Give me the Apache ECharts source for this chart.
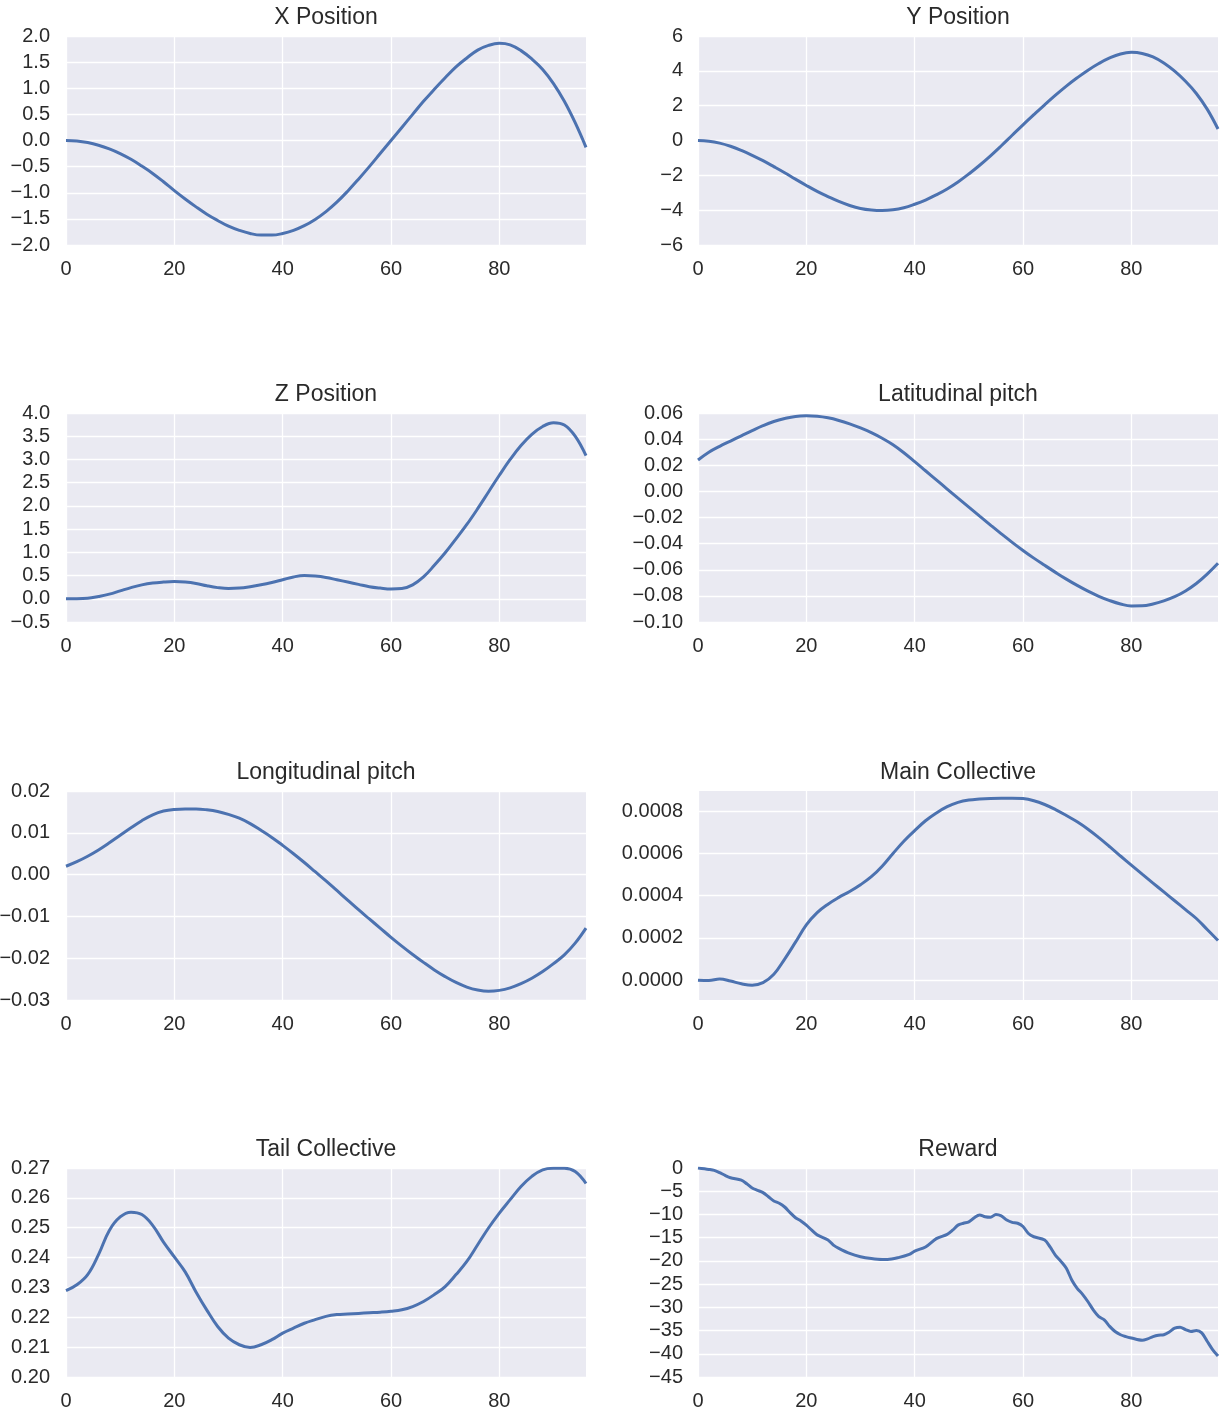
<!DOCTYPE html>
<html>
<head>
<meta charset="utf-8">
<script src="https://cdn.jsdelivr.net/npm/echarts@6/dist/echarts.min.js"></script>
<style>
  html, body { margin: 0; padding: 0; background: #ffffff; }
  #chart { width: 1220px; height: 1418px; }
</style>
</head>
<body>
<div id="chart"></div>
<script>
// ---------- data ----------
const titles = ["X Position", "Y Position", "Z Position", "Latitudinal pitch",
                "Longitudinal pitch", "Main Collective", "Tail Collective", "Reward"];

const xTicks = [0, 20, 40, 60, 80];

const t2 = [0, 2, 4, 6, 8, 10, 12, 14, 16, 18, 20, 22, 24, 26, 28, 30, 32, 34, 36, 38, 40, 42, 44, 46, 48,
            50, 52, 54, 56, 58, 60, 62, 64, 66, 68, 70, 72, 74, 76, 78, 80, 82, 84, 86, 88, 90, 92, 94, 96];

const xPosition = [0.00, -0.01, -0.04, -0.09, -0.16, -0.25, -0.36, -0.49, -0.63, -0.79, -0.96, -1.12, -1.27,
                   -1.41, -1.53, -1.64, -1.72, -1.78, -1.81, -1.81, -1.78, -1.72, -1.63, -1.51, -1.36, -1.18,
                   -0.97, -0.74, -0.50, -0.25, 0.00, 0.25, 0.50, 0.75, 0.98, 1.20, 1.41, 1.58, 1.73, 1.82,
                   1.86, 1.83, 1.72, 1.56, 1.36, 1.09, 0.75, 0.34, -0.13];

const yPosition = [0.00, -0.04, -0.15, -0.33, -0.57, -0.85, -1.16, -1.50, -1.85, -2.22, -2.58, -2.92, -3.22,
                   -3.50, -3.73, -3.90, -3.99, -4.02, -3.98, -3.86, -3.66, -3.42, -3.12, -2.78, -2.38, -1.92,
                   -1.42, -0.88, -0.30, 0.30, 0.90, 1.48, 2.05, 2.60, 3.12, 3.60, 4.04, 4.42, 4.74, 4.97,
                   5.06, 5.00, 4.80, 4.45, 3.98, 3.40, 2.70, 1.80, 0.66];

const zPosition = [0.00, 0.00, 0.01, 0.05, 0.10, 0.17, 0.24, 0.30, 0.34, 0.36, 0.37, 0.36, 0.33, 0.28, 0.24,
                   0.22, 0.23, 0.26, 0.30, 0.35, 0.41, 0.47, 0.50, 0.49, 0.46, 0.41, 0.36, 0.31, 0.26, 0.23,
                   0.21, 0.22, 0.30, 0.47, 0.72, 0.99, 1.29, 1.60, 1.94, 2.30, 2.66, 3.00, 3.30, 3.54, 3.71,
                   3.79, 3.74, 3.50, 3.08];

const latPitch = [0.0240, 0.0300, 0.0345, 0.0385, 0.0425, 0.0465, 0.0503, 0.0535, 0.0558, 0.0574, 0.0578,
                  0.0575, 0.0563, 0.0543, 0.0517, 0.0486, 0.0450, 0.0407, 0.0357, 0.0296, 0.0228, 0.0158,
                  0.0088, 0.0018, -0.0052, -0.0121, -0.0190, -0.0258, -0.0325, -0.0390, -0.0452, -0.0511,
                  -0.0566, -0.0620, -0.0672, -0.0720, -0.0764, -0.0803, -0.0836, -0.0862, -0.0877, -0.0876,
                  -0.0862, -0.0838, -0.0806, -0.0762, -0.0705, -0.0633, -0.0550];

const lonPitch = [0.0020, 0.0031, 0.0044, 0.0059, 0.0076, 0.0094, 0.0112, 0.0129, 0.0143, 0.0152, 0.0156,
                  0.0157, 0.0157, 0.0155, 0.0151, 0.0144, 0.0135, 0.0122, 0.0106, 0.0089, 0.0070, 0.0050,
                  0.0029, 0.0007, -0.0015, -0.0038, -0.0061, -0.0084, -0.0106, -0.0128, -0.0150, -0.0171,
                  -0.0191, -0.0210, -0.0228, -0.0244, -0.0258, -0.0269, -0.0276, -0.0279, -0.0277, -0.0271,
                  -0.0261, -0.0248, -0.0232, -0.0213, -0.0192, -0.0164, -0.0128];

const mainCollective = [0.000000, -0.000002, 0.000005, -0.000004, -0.000017, -0.000024, -0.000012, 0.000028,
                        0.000100, 0.000180, 0.000262, 0.000320, 0.000360, 0.000392, 0.000420, 0.000452,
                        0.000490, 0.000540, 0.000600, 0.000658, 0.000708, 0.000755, 0.000792, 0.000822,
                        0.000842, 0.000853, 0.000858, 0.000861, 0.000862, 0.000862, 0.000860, 0.000850,
                        0.000832, 0.000808, 0.000780, 0.000750, 0.000715, 0.000675, 0.000632, 0.000588,
                        0.000545, 0.000502, 0.000460, 0.000418, 0.000376, 0.000334, 0.000292, 0.000240,
                        0.000188];

const tailCollective = [0.2289, 0.2309, 0.2343, 0.2410, 0.2491, 0.2536, 0.2552, 0.2544, 0.2508, 0.2452,
                        0.2402, 0.2352, 0.2285, 0.2224, 0.2169, 0.2130, 0.2108, 0.2099, 0.2108, 0.2125,
                        0.2147, 0.2164, 0.2180, 0.2192, 0.2203, 0.2209, 0.2211, 0.2213, 0.2215, 0.2217,
                        0.2220, 0.2225, 0.2236, 0.2253, 0.2276, 0.2303, 0.2343, 0.2387, 0.2443, 0.2499,
                        0.2549, 0.2594, 0.2638, 0.2672, 0.2694, 0.2699, 0.2699, 0.2688, 0.2648];

const rewardX = [0, 2, 3, 4, 5, 6, 8, 9, 10, 11, 12, 13, 14, 15, 16, 17, 18, 19, 20, 21, 22, 24, 25, 26, 28,
                 30, 32, 34, 35, 37, 39, 40, 42, 44, 46, 47, 48, 49, 50, 51, 52, 53, 54, 55, 56, 57, 58, 59,
                 60, 61, 62, 64, 65, 66, 67, 68, 69, 70, 71, 72, 73, 74, 75, 76, 77, 78, 79, 80, 82, 83, 84,
                 85, 86, 87, 88, 89, 90, 91, 92, 93, 94, 95, 96];
const reward = [0.0, -0.3, -0.5, -1.0, -1.6, -2.1, -2.6, -3.4, -4.3, -4.8, -5.3, -6.2, -7.1, -7.6, -8.4, -9.6,
                -10.7, -11.4, -12.3, -13.4, -14.4, -15.5, -16.6, -17.3, -18.4, -19.1, -19.5, -19.7, -19.7,
                -19.3, -18.6, -17.9, -17.0, -15.2, -14.3, -13.4, -12.3, -11.9, -11.6, -10.7, -10.1, -10.5,
                -10.6, -10.0, -10.3, -11.2, -11.7, -11.9, -12.6, -14.1, -14.8, -15.5, -17.0, -18.8, -20.1,
                -21.6, -24.1, -25.9, -27.2, -28.8, -30.6, -32.0, -32.7, -34.1, -35.2, -35.9, -36.3, -36.6,
                -37.1, -36.8, -36.3, -36.0, -35.9, -35.3, -34.5, -34.3, -34.8, -35.2, -35.0, -35.5, -37.3,
                -39.1, -40.5];

// y tick labels per panel
const yTicksX   = [-2.0, -1.5, -1.0, -0.5, 0.0, 0.5, 1.0, 1.5, 2.0];
const yTicksY   = [-6, -4, -2, 0, 2, 4, 6];
const yTicksZ   = [-0.5, 0.0, 0.5, 1.0, 1.5, 2.0, 2.5, 3.0, 3.5, 4.0];
const yTicksLat = [-0.10, -0.08, -0.06, -0.04, -0.02, 0.00, 0.02, 0.04, 0.06];
const yTicksLon = [-0.03, -0.02, -0.01, 0.00, 0.01, 0.02];
const yTicksMC  = [0.0000, 0.0002, 0.0004, 0.0006, 0.0008];
const yTicksTC  = [0.20, 0.21, 0.22, 0.23, 0.24, 0.25, 0.26, 0.27];
const yTicksRw  = [-45, -40, -35, -30, -25, -20, -15, -10, -5, 0];

// ---------- chart ----------
const panels = [
  { xs: t2,      ys: xPosition,      ticks: yTicksX,   min: -2,        max: 2,        dec: 1 },
  { xs: t2,      ys: yPosition,      ticks: yTicksY,   min: -6,        max: 6,        dec: 0 },
  { xs: t2,      ys: zPosition,      ticks: yTicksZ,   min: -0.5,      max: 4,        dec: 1 },
  { xs: t2,      ys: latPitch,       ticks: yTicksLat, min: -0.10,     max: 0.06,     dec: 2 },
  { xs: t2,      ys: lonPitch,       ticks: yTicksLon, min: -0.03,     max: 0.02,     dec: 2 },
  { xs: t2,      ys: mainCollective, ticks: yTicksMC,  min: -0.000094, max: 0.000896, dec: 4 },
  { xs: t2,      ys: tailCollective, ticks: yTicksTC,  min: 0.20,      max: 0.27,     dec: 2 },
  { xs: rewardX, ys: reward,         ticks: yTicksRw,  min: -45,       max: 0,        dec: 0, smooth: 0.3 }
];

const colLeft = [66, 698];
const plotW = 520;
const rowTop = [36, 413, 791, 1168];
const plotH = 209;
const textColor = '#2a2a2a';
const fontFam = '"Liberation Sans", Arial, sans-serif';

function fmt(v, d) {
  return Number(v).toFixed(d).replace('-', '\u2212');
}

const grids = [], xAxes = [], yAxes = [], series = [], titleList = [];
panels.forEach((p, i) => {
  const col = i % 2, row = Math.floor(i / 2);
  grids.push({
    left: colLeft[col], top: rowTop[row], width: plotW, height: plotH,
    show: true, backgroundColor: '#EAEAF2', borderWidth: 0, containLabel: false,
    outerBoundsMode: 'none'
  });
  titleList.push({
    text: titles[i],
    left: colLeft[col] + plotW / 2,
    textAlign: 'center',
    top: rowTop[row] - 30,
    padding: 0,
    textStyle: { fontFamily: fontFam, fontSize: 23, fontWeight: 'normal', color: textColor }
  });
  xAxes.push({
    type: 'value', gridIndex: i, min: 0, max: 96,
    axisLine: { show: false },
    axisTick: { show: false, customValues: xTicks },
    axisLabel: { customValues: xTicks, margin: 14, fontFamily: fontFam, fontSize: 20, color: textColor,
                 formatter: v => String(v) },
    splitLine: { show: true, lineStyle: { color: '#ffffff', width: 1.3 } }
  });
  yAxes.push({
    type: 'value', gridIndex: i, min: p.min, max: p.max,
    axisLine: { show: false },
    axisTick: { show: false, customValues: p.ticks },
    axisLabel: { customValues: p.ticks, margin: col === 0 ? 16 : 15, fontFamily: fontFam, fontSize: 20,
                 color: textColor, formatter: v => fmt(v, p.dec) },
    splitLine: { show: true, lineStyle: { color: '#ffffff', width: 1.3 } }
  });
  series.push({
    type: 'line', xAxisIndex: i, yAxisIndex: i,
    data: p.xs.map((x, k) => [x, p.ys[k]]),
    showSymbol: false, symbol: 'none',
    smooth: p.smooth !== undefined ? p.smooth : 0.4,
    lineStyle: { color: '#4C72B0', width: 3 },
    itemStyle: { color: '#4C72B0' },
    clip: true
  });
});

const chart = echarts.init(document.getElementById('chart'), null, { renderer: 'canvas' });
chart.setOption({
  animation: false,
  backgroundColor: '#ffffff',
  title: titleList,
  grid: grids,
  xAxis: xAxes,
  yAxis: yAxes,
  series: series
});
</script>
</body>
</html>
